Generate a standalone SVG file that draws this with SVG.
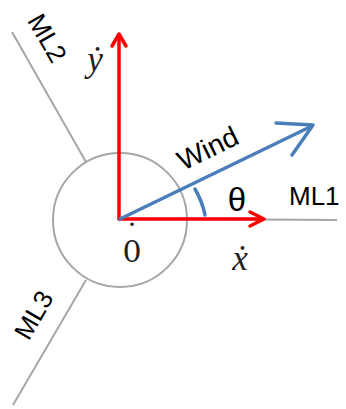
<svg xmlns="http://www.w3.org/2000/svg" width="346" height="409" viewBox="0 0 346 409">
<style>
.gray{fill:none;stroke:#a6a6a6;stroke-width:2}
.red{fill:none;stroke:#ff0000;stroke-width:3.5;stroke-linecap:round;stroke-linejoin:round}
.blue{fill:none;stroke:#4a7ebb;stroke-width:3.5;stroke-linecap:round;stroke-linejoin:round}
.lbl{font-family:"Liberation Sans",Arial,sans-serif;font-size:26px;fill:#000}
.math{font-family:"Liberation Serif","Times New Roman",serif;font-size:35px;fill:#222}
</style>
<rect width="346" height="409" fill="#fff"/>
<g id="mooring">
<circle class="gray" cx="120" cy="220" r="67"/>
<line class="gray" x1="187" y1="219" x2="337" y2="220"/>
<line class="gray" x1="86" y1="162" x2="12" y2="32"/>
<line class="gray" x1="86" y1="280" x2="13" y2="405"/>
</g>
<g id="connectors">
<g id="x-axis"><line class="red" x1="119" y1="219" x2="262" y2="219"/><polyline class="red" points="250,212 264,219 250,226"/></g>
<g id="y-axis"><line class="red" x1="119" y1="219" x2="119" y2="36"/><polyline class="red" points="112,46 119,34 126,46"/></g>
<g id="wind"><line class="blue" x1="120" y1="219" x2="312" y2="126"/><polyline class="blue" points="276,123 313,125 292,155"/></g>
<path id="theta-arc" class="blue" d="M195,189 A85,85 0 0 1 205,215"/>
</g>
<g id="labels">
<text class="lbl" text-anchor="middle" transform="translate(212,157) rotate(-26)" style="font-size:28px">Wind</text>
<text class="lbl" x="289" y="205">ML1</text>
<text class="lbl" text-anchor="middle" transform="translate(39.5,42.5) rotate(60)">ML2</text>
<text class="lbl" text-anchor="middle" transform="translate(41.5,319.5) rotate(-60)">ML3</text>
<text class="lbl" x="237" y="211" text-anchor="middle" style="font-size:33px">θ</text>
<text class="math" x="132" y="262" text-anchor="middle" style="font-family:'DejaVu Serif',serif;font-size:30px">0<tspan x="132" y="246">˙</tspan></text>
<text class="math" x="240" y="270" text-anchor="middle" font-style="italic">ẋ</text>
<text class="math" x="95" y="71" text-anchor="middle" font-style="italic">ẏ</text>
</g>
</svg>
